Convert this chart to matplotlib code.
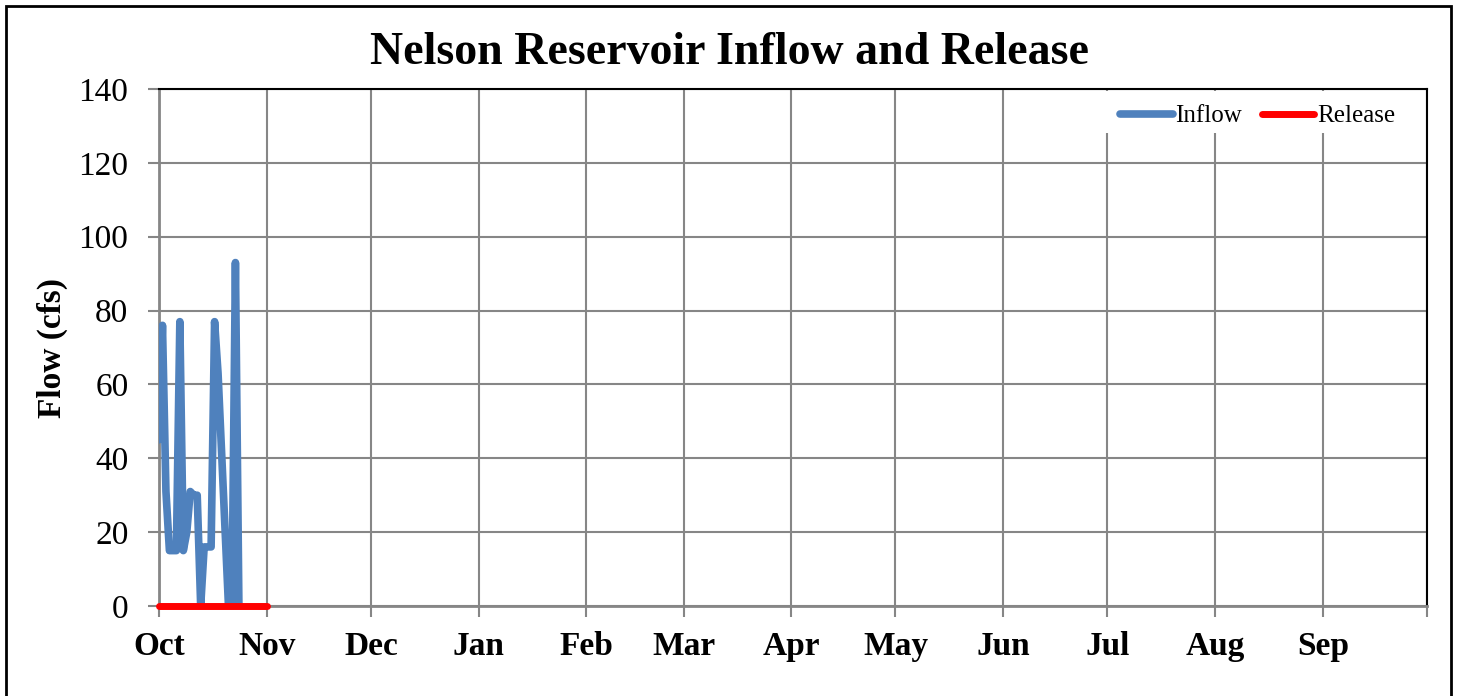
"""
Nelson Reservoir inflow / release chart
"""
import pandas as pd
import matplotlib
matplotlib.use("Agg")
import matplotlib.pyplot as plt
from matplotlib.patches import Rectangle

# daily data (cfs), starting Oct 1
inflow_start = "2022-10-01"
inflow_values = [45, 76, 31, 15, 15, 15, 77, 15, 20, 31, 30, 30, 0, 16, 16, 16,
                 77, 63, 42, 21, 0, 0, 93, 0]
release_start = "2022-10-01"
release_values = [0] * 32

month_labels = ["Oct", "Nov", "Dec", "Jan", "Feb", "Mar", "Apr", "May",
                "Jun", "Jul", "Aug", "Sep", ""]
y_ticks = [0, 20, 40, 60, 80, 100, 120, 140]

inflow_dates = pd.date_range(inflow_start, periods=len(inflow_values), freq="D")
release_dates = pd.date_range(release_start, periods=len(release_values), freq="D")
month_ticks = pd.date_range("2022-10-01", "2023-10-01", freq="MS")

plt.rcParams["font.family"] = ["Liberation Serif", "DejaVu Serif"]
grid_color = "#868686"

fig = plt.figure(figsize=(14.59, 6.96), dpi=100)
ax = fig.add_axes([159 / 1459, 1 - 606 / 696, (1427 - 159) / 1459, (606 - 89) / 696])

# outer frame around the chart
fig.patches.append(Rectangle((6 / 1459, -0.05), (1451 - 6) / 1459, 1.05 - 6 / 696,
                             transform=fig.transFigure, fill=False,
                             edgecolor="black", linewidth=2))

ax.plot(inflow_dates, inflow_values, color="#4F81BD", linewidth=5.5,
        solid_capstyle="round", solid_joinstyle="round", label="Inflow", zorder=3)
ax.plot(release_dates, release_values, color="#FF0000", linewidth=5,
        solid_capstyle="round", label="Release", zorder=4, clip_on=False)

ax.set_xlim(month_ticks[0], month_ticks[-1])
ax.set_ylim(0, 140)
ax.set_xticks(month_ticks)
ax.set_xticklabels(month_labels, fontsize=24, fontweight="bold")
ax.set_yticks(y_ticks)
ax.set_yticklabels([str(v) for v in y_ticks], fontsize=24)
ax.tick_params(axis="x", direction="out", length=8, width=1.5, color=grid_color, pad=10)
ax.tick_params(axis="y", direction="out", length=8, width=1.5, color=grid_color, pad=14)

ax.grid(True, color=grid_color, linewidth=1.5)
ax.set_axisbelow(True)
for side in ["left", "bottom"]:
    ax.spines[side].set_color(grid_color)
    ax.spines[side].set_linewidth(2)
for side in ["top", "right"]:
    ax.spines[side].set_color("black")
    ax.spines[side].set_linewidth(1.5)

ax.set_ylabel("Flow (cfs)", fontsize=24, fontweight="bold")
ax.yaxis.set_label_coords((68 - 159) / 1268, 0.5)
fig.text(729 / 1459, 1 - 53 / 696, "Nelson Reservoir Inflow and Release",
         fontsize=33, fontweight="bold", ha="center", va="center")

# white box behind the legend (hides the grid there)
ax.add_patch(Rectangle(((1100 - 159) / 1268, (606 - 133) / 517),
                       (1425 - 1100) / 1268, (133 - 91) / 517,
                       transform=ax.transAxes, facecolor="white",
                       edgecolor="none", zorder=1))
ax.legend(loc="upper right", bbox_to_anchor=(1 - 22 / 1268, 1 - 6 / 517),
          frameon=False, fontsize=18, handlelength=2.1,
          handletextpad=0.1, columnspacing=0.8, ncol=2, borderaxespad=0)

fig.savefig("out.png", dpi=100)
